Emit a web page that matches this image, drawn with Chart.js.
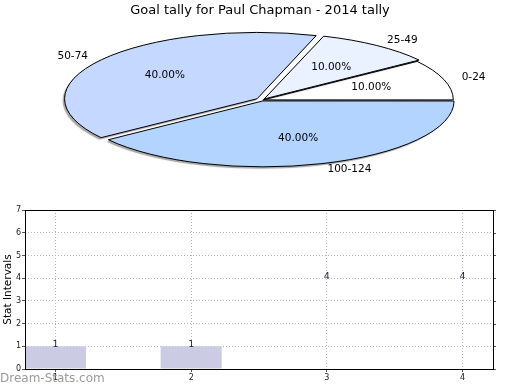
<!DOCTYPE html>
<html><head><meta charset="utf-8">
<script src="https://cdn.jsdelivr.net/npm/chart.js@4"></script>
<style>
html,body{margin:0;padding:0;background:#fff;width:520px;height:390px;overflow:hidden;}
#wrap{position:relative;width:520px;height:390px;background:#fff;}
canvas{position:absolute;left:0;top:0;}
#wm{position:absolute;left:0;top:371px;font:12px "DejaVu Sans";color:#9a9a9a;line-height:14px;}
</style></head><body>
<div id="wrap">
<canvas id="bar" width="520" height="390"></canvas>
<canvas id="pie" width="520" height="190"></canvas>
<div id="wm">Dream-Stats.com</div>
</div>
<script>
// ---- data ----
const pieTitle = 'Goal tally for Paul Chapman - 2014 tally';
const pieLabels = ['0-24', '25-49', '50-74', '100-124'];
const pieValues = [10, 10, 40, 40];

const barX = [1, 2, 3, 4];
const barValues = [1, 1, 4, 4];
const xTicks = [1, 2, 3, 4];
const yTicks = [0, 1, 2, 3, 4, 5, 6, 7];
const yTitle = 'Stat Intervals';

// ---- styles ----
const pieColors = ['#ffffff', '#eaf1ff', '#c5d8ff', '#b3d4ff'];
const pieExplode = [0.005, 0.02, 0.032, 0.015];
const barColors = ['#cbcbe3', '#cbcbe3', 'rgba(0,0,0,0)', 'rgba(0,0,0,0)'];
const PIE_CX = 262, PIE_CY = 100, PIE_R = 190, PIE_K = 65.5 / 190;
const FONT = '"DejaVu Sans", sans-serif';

// ---- pie (flattened, exploded, counter-clockwise from east) ----
const pieShape = {
  id: 'pieShape',
  beforeDatasetsDraw(chart) {
    const ctx = chart.ctx;
    const arc = chart.getDatasetMeta(0).data[0];
    ctx.save();
    ctx.translate(PIE_CX, PIE_CY);
    ctx.scale(1, -PIE_K);
    ctx.translate(-arc.x, -arc.y);
    ctx.shadowColor = 'rgba(0,0,0,0.35)';
    ctx.shadowOffsetX = -2;
    ctx.shadowOffsetY = 2;
    ctx.shadowBlur = 1;
    const orig = CanvasRenderingContext2D.prototype.stroke;
    ctx.stroke = function (...a) {
      this.save();
      this.setTransform(1, 0, 0, 1, 0, 0);
      this.shadowColor = 'rgba(0,0,0,0)';
      orig.apply(this, a);
      this.restore();
    };
  },
  afterDatasetsDraw(chart) {
    const ctx = chart.ctx;
    delete ctx.stroke;
    ctx.restore();
    const meta = chart.getDatasetMeta(0);
    const total = pieValues.reduce((a, b) => a + b, 0);
    ctx.save();
    ctx.fillStyle = '#000';
    ctx.font = '10.5px ' + FONT;
    ctx.textBaseline = 'middle';
    meta.data.forEach((el, i) => {
      const p = el.getProps(['startAngle', 'endAngle', 'outerRadius'], true);
      const mid = (p.startAngle + p.endAngle) / 2;
      const t = (el.options.offset || 0) / 4;
      const c = Math.cos(mid), s = Math.sin(mid);
      const R = p.outerRadius;
      const lx = PIE_CX + c * (t + 1.1 * R);
      const ly = PIE_CY - s * (t + 1.1 * R) * PIE_K;
      ctx.textAlign = c >= 0 ? 'left' : 'right';
      ctx.fillText(pieLabels[i], lx, ly);
      const px = PIE_CX + c * (t + 0.6 * R);
      const py = PIE_CY - s * (t + 0.6 * R) * PIE_K;
      ctx.textAlign = 'center';
      ctx.fillText((pieValues[i] / total * 100).toFixed(2) + '%', px, py);
    });
    ctx.restore();
  }
};

new Chart(document.getElementById('pie'), {
  type: 'pie',
  data: {
    labels: pieLabels,
    datasets: [{
      data: pieValues,
      backgroundColor: pieColors,
      borderColor: '#000',
      borderWidth: 1,
      offset: pieExplode.map(e => e * 4 * PIE_R),
      clip: false
    }]
  },
  options: {
    responsive: false, animation: false, devicePixelRatio: 1, events: [],
    rotation: 90,
    radius: PIE_R,
    layout: { padding: 0 },
    plugins: {
      legend: { display: false },
      tooltip: { enabled: false },
      title: {
        display: true, text: pieTitle, color: '#000',
        font: { family: FONT, size: 13, weight: 'normal' },
        padding: { top: 3, bottom: 0 }
      }
    }
  },
  plugins: [pieShape]
});

// ---- bar chart ----
const barDecor = {
  id: 'barDecor',
  afterDatasetsDraw(chart) {
    const ctx = chart.ctx;
    const meta = chart.getDatasetMeta(0);
    ctx.save();
    ctx.fillStyle = '#1f1f4f';
    ctx.font = '9.5px ' + FONT;
    ctx.textAlign = 'center';
    ctx.textBaseline = 'middle';
    meta.data.forEach((el, i) => ctx.fillText(String(barValues[i]), el.x, el.y - 2));
    ctx.restore();
  },
  afterDraw(chart) {
    const ctx = chart.ctx;
    const a = chart.chartArea;
    const ys = chart.scales.y;
    ctx.save();
    ctx.strokeStyle = '#555';
    ctx.lineWidth = 1;
    yTicks.forEach(v => {
      const y = Math.round(ys.getPixelForValue(v)) + 0.5;
      ctx.beginPath(); ctx.moveTo(a.right, y); ctx.lineTo(a.right + 3, y); ctx.stroke();
    });
    ctx.strokeStyle = '#000';
    ctx.strokeRect(Math.round(a.left) + 0.5, Math.round(a.top) + 0.5,
      Math.round(a.right - a.left), Math.round(a.bottom - a.top));
    ctx.restore();
  }
};

new Chart(document.getElementById('bar'), {
  type: 'bar',
  data: {
    datasets: [{
      data: barX.map((x, i) => ({ x: x, y: barValues[i] })),
      backgroundColor: barColors,
      borderWidth: 0,
      barPercentage: 0.45,
      categoryPercentage: 1
    }]
  },
  options: {
    responsive: false, animation: false, devicePixelRatio: 1, events: [],
    layout: { padding: { top: 210, right: 27, left: 0, bottom: 0 } },
    plugins: { legend: { display: false }, tooltip: { enabled: false } },
    scales: {
      x: {
        type: 'linear', min: 0.775, max: 4.225, offset: false,
        afterBuildTicks(s) { s.ticks = xTicks.map(v => ({ value: v })); },
        afterFit(s) { s.height = 21; },
        grid: { offset: false, color: '#b5b5b5', tickColor: '#555', tickLength: 3, tickBorderDash: [] },
        border: { display: false, dash: [1, 2] },
        ticks: { color: '#222', font: { family: FONT, size: 8 }, padding: 1, maxRotation: 0,
          callback: v => String(v) }
      },
      y: {
        min: 0, max: 7,
        afterBuildTicks(s) { s.ticks = yTicks.map(v => ({ value: v })); },
        afterFit(s) { s.width = 25; },
        grid: { color: '#b5b5b5', tickColor: '#555', tickLength: 3, tickBorderDash: [] },
        border: { display: false, dash: [1, 2] },
        ticks: { color: '#222', font: { family: FONT, size: 8 }, padding: 1, callback: v => String(v) },
        title: { display: true, text: yTitle, color: '#000', font: { family: FONT, size: 10.5 }, padding: { top: 2, bottom: 0 } }
      }
    }
  },
  plugins: [barDecor]
});
</script>
</body></html>
